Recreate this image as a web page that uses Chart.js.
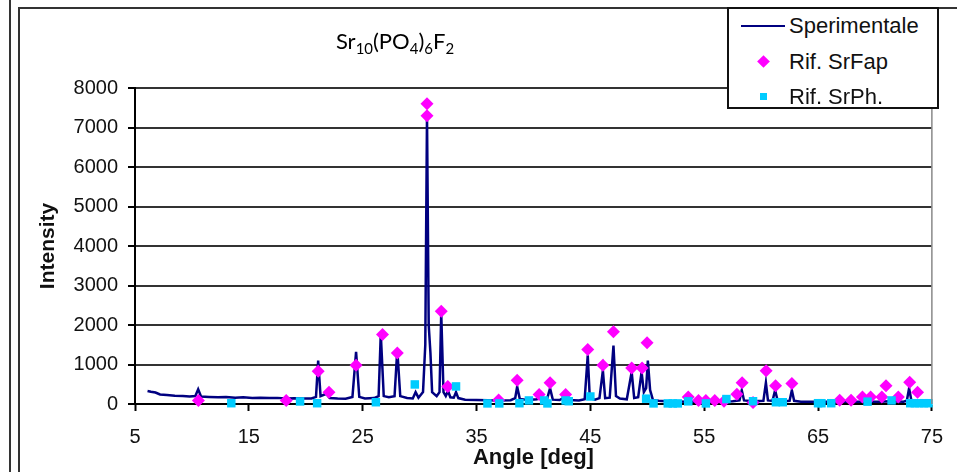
<!DOCTYPE html>
<html lang="it">
<head>
<meta charset="UTF-8">
<title>Sr10(PO4)6F2</title>
<script src="https://cdn.jsdelivr.net/npm/chart.js@4"></script>
<style>
  body { margin: 0; background: #fff; overflow: hidden; font-family: "Liberation Sans", Arial, sans-serif; }
  #wrap { position: relative; width: 957px; height: 472px; overflow: hidden; }
  #xrd { position: absolute; left: 0; top: 0; }
  .edge { position: absolute; left: 9px; top: 0; width: 2px; height: 472px; background: #333; }
  .frame { position: absolute; left: 18px; top: 7px; width: 1000px; height: 600px; border: 2px solid #333; }
  .title { position: absolute; left: 290px; top: 27px; width: 210px; text-align: center;
           font-family: Lato, "Open Sans", sans-serif; font-size: 22px; color: #000; }
  .title sub { font-size: 0.68em; line-height: 0; vertical-align: -0.32em; }
  .legend { position: absolute; left: 727px; top: 7px; width: 208px; height: 98px;
            border: 2px solid #111; background: #fff; }
  .legend .txt { position: absolute; left: 60px; font-size: 22px; line-height: 26px; color: #111; }
  .legend .ln { position: absolute; left: 12px; width: 44px; height: 2px; background: #000080; }
  .legend .dia { position: absolute; left: 30px; width: 9px; height: 9px; background: #ff00ff; transform: rotate(45deg); }
  .legend .sq { position: absolute; left: 31px; width: 7px; height: 7px; background: #00ccff; }
</style>
</head>
<body>
<div id="wrap">
  <div class="edge"></div>
  <div class="frame"></div>
  <canvas id="xrd" width="957" height="472"></canvas>
  <div class="title">Sr<sub>10</sub>(PO<sub>4</sub>)<sub>6</sub>F<sub>2</sub></div>
  <div class="legend">
    <div class="ln" style="top:16px"></div>
    <div class="txt" style="top:4px">Sperimentale</div>
    <div class="dia" style="top:48px"></div>
    <div class="txt" style="top:40px">Rif. SrFap</div>
    <div class="sq" style="top:84px"></div>
    <div class="txt" style="top:75px">Rif. SrPh.</div>
  </div>
</div>

<script>
// experimental pattern (angle in deg, intensity)
const expAngle = [6.1, 6.4, 6.8, 7.2, 7.8, 8.5, 9.2, 9.8, 10.3, 10.55, 10.8, 11.5, 12.3, 13.0, 13.8, 14.5,
  15.3, 16.0, 16.8, 17.5, 18.3, 19.0, 19.8, 20.5, 20.9, 21.09, 21.3, 21.8, 22.1, 22.8, 23.5, 24.1,
  24.42, 24.7, 25.2, 26.0, 26.4, 26.59, 26.85, 27.3, 27.8, 28.04, 28.3, 28.9, 29.4, 29.65, 29.9, 30.3,
  30.5, 30.65, 30.8, 30.95, 31.1, 31.5, 31.75, 31.9, 32.1, 32.3, 32.5, 32.7, 33.0, 33.2, 33.4, 34.0,
  35.0, 36.0, 37.0, 38.0, 38.4, 38.57, 38.8, 39.5, 40.3, 40.5, 40.7, 41.2, 41.46, 41.7, 42.3, 42.8,
  43.1, 44.0, 44.5, 44.77, 44.95, 45.4, 45.8, 46.1, 46.3, 46.7, 47.03, 47.25, 47.6, 48.2, 48.63, 48.85,
  49.2, 49.5, 49.7, 49.9, 50.05, 50.25, 50.5, 51.0, 51.6, 52.5, 53.5, 54.5, 55.5, 56.5, 57.5, 58.1,
  58.3, 58.5, 59.3, 60.2, 60.42, 60.6, 61.0, 61.23, 61.45, 62.0, 62.5, 62.7, 62.9, 63.5, 65.0, 67.0,
  69.0, 70.5, 71.2, 72.5, 72.8, 73.0, 73.2, 74.0, 75.0];
const expInt = [330, 310, 290, 240, 225, 210, 200, 190, 200, 370, 190, 180, 170, 175, 160, 170,
  150, 160, 150, 155, 140, 145, 140, 140, 180, 1100, 200, 260, 150, 140, 135, 180,
  1320, 180, 140, 150, 200, 1780, 200, 170, 200, 1380, 200, 150, 140, 300, 160, 300,
  1500, 7300, 2000, 1300, 300, 200, 300, 2300, 300, 200, 330, 170, 160, 300, 150, 110,
  100, 95, 90, 95, 150, 440, 130, 100, 120, 200, 110, 130, 400, 110, 100, 180,
  100, 90, 120, 1230, 150, 110, 150, 850, 150, 160, 1480, 200, 140, 120, 810, 150,
  170, 810, 300, 400, 1100, 350, 100, 80, 70, 65, 60, 60, 60, 65, 70, 90,
  350, 90, 70, 80, 540, 90, 80, 350, 90, 70, 80, 350, 80, 60, 55, 55,
  55, 60, 70, 60, 80, 400, 90, 60, 60];

// reference peaks SrFap
const fapAngle = [10.57, 18.28, 21.09, 22.04, 24.42, 26.74, 28.04, 30.65, 30.65, 31.9, 32.48, 36.94,
  38.57, 40.5, 41.46, 42.83, 44.77, 46.1, 47.03, 48.63, 49.55, 49.98, 53.6, 54.5, 55.15, 55.93,
  56.74, 57.87, 58.33, 59.29, 60.44, 61.27, 62.7, 66.9, 67.9, 68.9, 69.62, 70.6, 70.97, 72.05,
  73.05, 73.74];
const fapInt = [90, 90, 830, 300, 980, 1760, 1290, 7600, 7300, 2350, 445, 100,
  600, 240, 540, 240, 1380, 980, 1830, 910, 910, 1550, 180, 90, 90, 90,
  70, 250, 540, 40, 840, 460, 520, 95, 95, 175, 175, 175, 460, 175,
  550, 300];

// reference peaks SrPh
const phAngle = [13.46, 19.5, 21.0, 26.16, 29.58, 33.2, 35.96, 37.0, 38.77, 39.6, 40.94, 41.23,
  42.83, 43.1, 45.0, 49.9, 50.55, 51.8, 52.24, 52.68, 53.6, 55.15, 56.95, 59.29, 61.3, 61.9,
  65.0, 65.3, 66.16, 69.35, 71.46, 73.1, 73.5, 73.9, 74.3, 74.7];
const phInt = [20, 65, 20, 45, 495, 445, 15, 15, 20, 90, 90, 15,
  90, 70, 190, 135, 15, 15, 15, 15, 68, 15, 125, 70, 45, 45,
  20, 20, 20, 60, 90, 20, 20, 20, 20, 20];

const xTicks = [5, 15, 25, 35, 45, 55, 65, 75];
const yTicks = [0, 1000, 2000, 3000, 4000, 5000, 6000, 7000, 8000];

const pts = (xs, ys) => xs.map((x, i) => ({ x: x, y: ys[i] }));

// grey right edge of the plot area
const plotEdge = {
  id: 'plotEdge',
  afterDraw(chart) {
    const a = chart.chartArea;
    const ctx = chart.ctx;
    ctx.save();
    ctx.strokeStyle = '#888';
    ctx.lineWidth = 1.5;
    ctx.beginPath();
    ctx.moveTo(a.right, a.top - 1);
    ctx.lineTo(a.right, a.bottom);
    ctx.stroke();
    ctx.restore();
  }
};

Chart.defaults.font.family = '"Liberation Sans", Arial, sans-serif';
Chart.defaults.color = '#111';

new Chart(document.getElementById('xrd'), {
  type: 'scatter',
  data: {
    datasets: [{
      label: 'Sperimentale',
      data: pts(expAngle, expInt),
      showLine: true,
      borderColor: '#000080',
      borderWidth: 2.5,
      pointRadius: 0,
      tension: 0,
      order: 3
    }, {
      label: 'Rif. SrFap',
      data: pts(fapAngle, fapInt),
      pointStyle: 'rectRot',
      pointRadius: 6.5,
      backgroundColor: '#ff00ff',
      borderWidth: 0,
      clip: false,
      order: 2
    }, {
      label: 'Rif. SrPh.',
      data: pts(phAngle, phInt),
      pointStyle: 'rect',
      pointRadius: 6,
      backgroundColor: '#00ccff',
      borderWidth: 0,
      clip: false,
      order: 1
    }]
  },
  options: {
    responsive: false,
    animation: false,
    devicePixelRatio: 1,
    layout: { padding: { top: 88, right: 18, left: 0, bottom: 0 } },
    plugins: { legend: { display: false }, tooltip: { enabled: false } },
    scales: {
      x: {
        type: 'linear',
        min: 5,
        max: 75,
        afterBuildTicks: s => { s.ticks = xTicks.map(v => ({ value: v })); },
        afterFit: s => { s.height = 68; },
        grid: { drawOnChartArea: false, drawTicks: true, tickLength: 7, tickColor: '#000', tickWidth: 2 },
        border: { color: '#000', width: 2 },
        ticks: { font: { size: 20 }, padding: 14, maxRotation: 0, autoSkip: false, callback: v => String(v) },
        title: { display: true, text: 'Angle [deg]', font: { size: 22, weight: 'bold' }, padding: { top: 0, bottom: 1 } }
      },
      y: {
        min: 0,
        max: 8000,
        afterBuildTicks: s => { s.ticks = yTicks.map(v => ({ value: v })); },
        afterFit: s => { s.width = 135; },
        grid: { color: '#333', lineWidth: 2, tickLength: 7, tickColor: '#000' },
        border: { color: '#000', width: 2 },
        ticks: { font: { size: 20 }, padding: 10, callback: v => String(v) },
        title: { display: true, text: 'Intensity', font: { size: 21, weight: 'bold' }, padding: { top: 36, bottom: 0 } }
      }
    }
  },
  plugins: [plotEdge]
});
</script>
</body>
</html>
